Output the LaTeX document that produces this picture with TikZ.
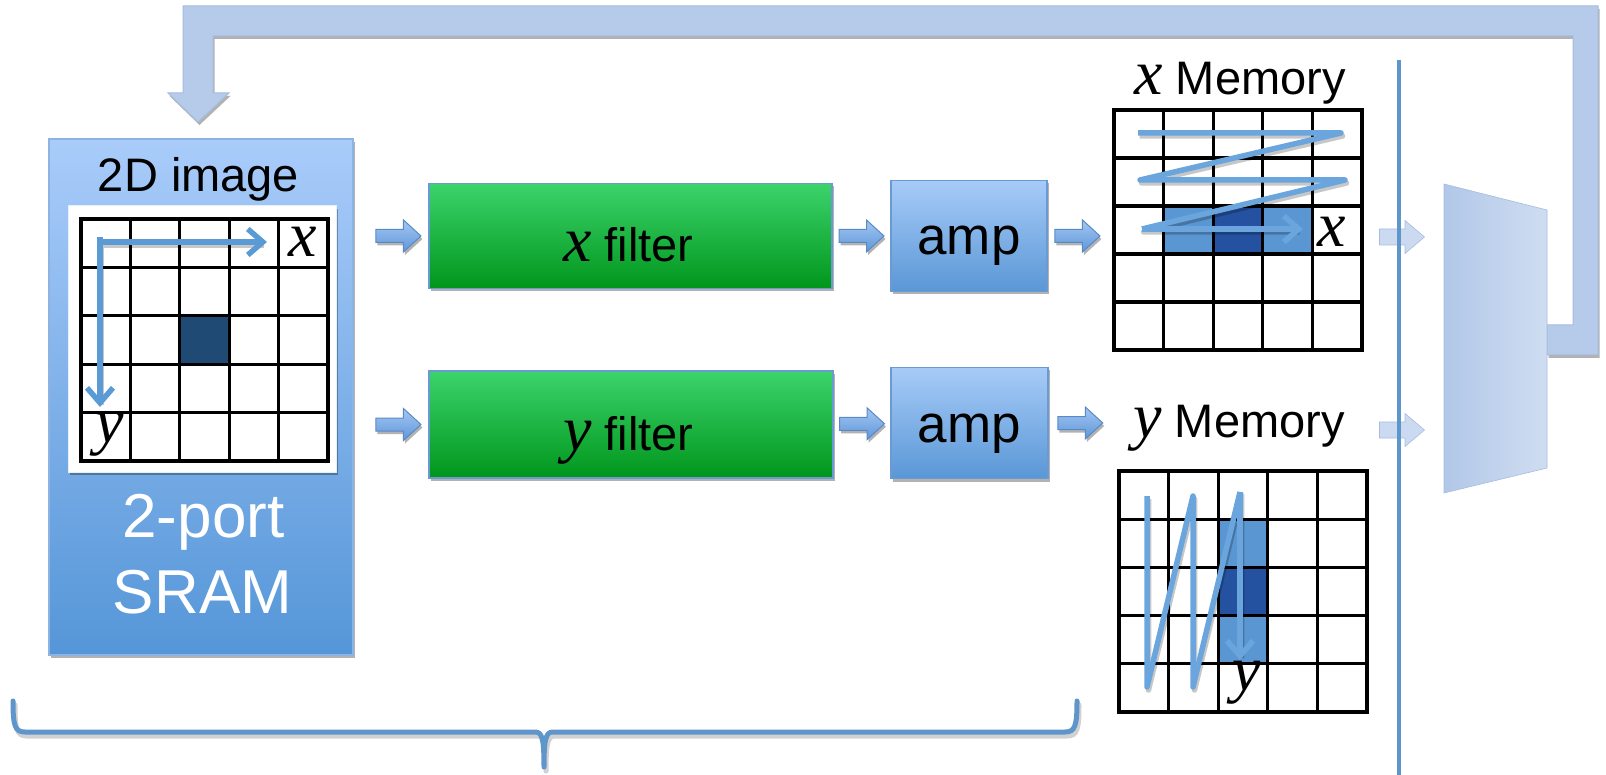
\documentclass[tikz,border=0pt]{standalone}
\usepackage{fontspec}
\setmainfont{Liberation Sans}
\newfontfamily\varfont{Liberation Serif}
\usetikzlibrary{calc,arrows.meta,shadows}

\definecolor{sramtop}{HTML}{A9CCFA}
\definecolor{srambot}{HTML}{5596D8}
\definecolor{sramedge}{HTML}{8DB3E2}
\definecolor{amptop}{HTML}{A7CBF8}
\definecolor{ampbot}{HTML}{5A97D6}
\definecolor{grtop}{HTML}{3CD36C}
\definecolor{grbot}{HTML}{00961C}
\definecolor{boxedge}{HTML}{6A9AD3}
\definecolor{arrtop}{HTML}{A4C6F2}
\definecolor{arrbot}{HTML}{5E97DA}
\definecolor{arredge}{HTML}{5A8AC6}
\definecolor{scan}{HTML}{5B9BD5}
\definecolor{memscan}{HTML}{6AA6DD}
\definecolor{darkcell}{HTML}{1F4A74}
\definecolor{memlight}{HTML}{5A97D2}
\definecolor{memdark}{HTML}{2452A0}
\definecolor{loopfill}{HTML}{B6CAEA}
\definecolor{loopedge}{HTML}{A6BCE0}
\definecolor{trapleft}{HTML}{B2C7E8}
\definecolor{trapright}{HTML}{CFDDF1}
\definecolor{ghost}{HTML}{C3D4EE}
\definecolor{rule}{HTML}{5E95CB}

\newcommand\ivar[1]{{\varfont\itshape\fontsize{64}{64}\selectfont #1}}

\tikzset{
  shade3d/.style={drop shadow={shadow xshift=1.5pt,shadow yshift=-3pt,opacity=0.3,fill=black}},
  bluebox/.style={draw=boxedge,line width=1.2pt,top color=amptop,bottom color=ampbot,
    shade3d,inner sep=0pt},
  greenbox/.style={draw=boxedge,line width=1.2pt,top color=grtop,bottom color=grbot,
    shade3d,inner sep=0pt},
  gridline/.style={line width=3.2pt,black,line cap=rect},
  scanline/.style={line width=5.5pt,scan,line join=round},
  memline/.style={scanline,memscan},
  scanshade/.style={line width=5.5pt,black,opacity=0.22,line join=round,shift={(1.5,3)}},
  scanarrow/.style={scanline,-{Straight Barb[length=15pt,width=26pt]}},
  memarrow/.style={scanarrow,memscan},
  labtext/.style={font=\fontsize{47}{50}\selectfont,anchor=base,inner sep=0pt},
  bigtext/.style={font=\fontsize{62}{64}\selectfont,anchor=base,inner sep=0pt,text=white},
  varlab/.style={anchor=base,inner sep=0pt},
  barrow/.pic={
    \path[draw=arredge,line width=1pt,top color=arrtop,bottom color=arrbot,shade3d]
      (-22.5,-6.5) -- (5,-6.5) -- (5,-16) -- (22.5,0) -- (5,16) -- (5,6.5)
      -- (-22.5,6.5) -- cycle;},
  garrow/.pic={
    \path[fill=ghost,fill opacity=0.85,draw=loopedge,line width=0.6pt]
      (-22.5,-8) -- (3,-8) -- (3,-16.5) -- (22.5,0) -- (3,16.5) -- (3,8)
      -- (-22.5,8) -- cycle;}
}

\begin{document}
\begin{tikzpicture}[x=1pt,y=-1pt]
\useasboundingbox (0,0) rectangle (1606,775);

% feedback path from the output stage back to the frame buffer
\path[draw=loopedge,line width=1pt,fill=loopfill,shade3d]
  (1547,325) -- (1573,325) -- (1573,36) -- (213,36) -- (213,93) -- (229,93)
  -- (198,122) -- (168,93) -- (183,93) -- (183,6) -- (1598,6) -- (1598,355)
  -- (1547,355) -- cycle;

% output stage
\path[left color=trapleft,right color=trapright,draw=loopedge,line width=0.6pt]
  (1444,184) coordinate (trapnw) -- (1547,210) -- (1547,468) -- (1444,493) coordinate (trapsw) -- cycle;

% 2-port SRAM with the stored image
\node[draw=sramedge,line width=1.2pt,top color=sramtop,bottom color=srambot,shade3d,
      minimum width=304pt,minimum height=516pt,inner sep=0pt] (sram) at (201,397) {};
\node[labtext] (imglbl) at (198.5,192) {2D image};
\node[bigtext] (portlbl) at (203.5,537) {2-port};
\node[bigtext] (sramlbl) at (202.5,613) {SRAM};
\node[fill=white,draw=white!85!scan,line width=1pt,shade3d,
      minimum width=268pt,minimum height=266pt,inner sep=0pt] (img) at (202,339) {};
\fill[darkcell] (179.8,315.8) rectangle (229.2,364.2);
\foreach \i in {0,...,5} {
  \draw[gridline] ({81+\i*49.4},219) -- ({81+\i*49.4},461);
  \draw[gridline] (81,{219+\i*48.4}) -- (328,{219+\i*48.4});
}
\draw[scanshade] (100,242) -- (262,242) (100,237) -- (100,402);
\draw[scanarrow] (100,242) -- (267,242);
\draw[scanarrow] (100,237) -- (100,407);
\node[varlab] (imgx) at (302.5,257) {\ivar{x}};
\node[varlab] (imgy) at (110,442) {\ivar{y}};

% filters and amplifiers
\node[greenbox,minimum width=403pt,minimum height=105pt] (xf) at (630.5,236) {};
\node[greenbox,minimum width=404pt,minimum height=107pt] (yf) at (631,424.5) {};
\node[labtext] at (628.5,262) {\ivar{x} filter};
\node[labtext] at (628.5,450) {\ivar{y} filter};
\node[bluebox,minimum width=156pt,minimum height=111pt] (ampx) at (969,236) {};
\node[bluebox,minimum width=157pt,minimum height=111pt] (ampy) at (969.5,423) {};
\node[labtext,font=\fontsize{53}{56}\selectfont] at (969,255) {amp};
\node[labtext,font=\fontsize{53}{56}\selectfont] at (969.5,442) {amp};

% x memory
\coordinate (xmem) at (1114,110);
\fill[memlight] (1163.6,206) rectangle (1312.4,254);
\fill[memdark] (1213.2,206) rectangle (1262.8,254);
\foreach \i in {0,...,5} {
  \draw[gridline] ({1114+\i*49.6},110) -- ({1114+\i*49.6},350);
  \draw[gridline] (1114,{110+\i*48}) -- (1362,{110+\i*48});
}
\draw[scanshade] (1138,133) -- (1341,133) -- (1140,180) -- (1345,180) -- (1142,229) -- (1298,229);
\draw[memline] (1138,133) -- (1341,133) -- (1140,180) -- (1345,180) -- (1142,229);
\draw[memarrow] (1142,229) -- (1303,229);
\node[varlab] (memx) at (1332,247) {\ivar{x}};
\node[labtext] (xmemlbl) at (1240,95) {\ivar{x} Memory};

% y memory
\coordinate (ymem) at (1119,471);
\fill[memlight] (1218.2,519.2) rectangle (1267.8,663.8);
\fill[memdark] (1218.2,567.4) rectangle (1267.8,615.6);
\foreach \i in {0,...,5} {
  \draw[gridline] ({1119+\i*49.6},471) -- ({1119+\i*49.6},712);
  \draw[gridline] (1119,{471+\i*48.2}) -- (1367,{471+\i*48.2});
}
\draw[scanshade] (1147,496) -- (1147,687) -- (1193,496) -- (1193,687) -- (1240,492) -- (1240,655);
\draw[memline] (1147,496) -- (1147,687) -- (1193,496) -- (1193,687) -- (1240,492);
\draw[memarrow] (1240,492) -- (1240,660);
\node[varlab] (memy) at (1247,690) {\ivar{y}};
\node[labtext] (ymemlbl) at (1239,437) {\ivar{y} Memory};

% block arrows along the data path
\path (sram.east|-xf.west) -- coordinate[pos=0.6] (a1) (xf.west);
\path (sram.east|-yf.west) -- coordinate[pos=0.6] (a2) (yf.west);
\path (xf.east) -- coordinate[pos=0.5] (a3) (ampx.west);
\path (yf.east) -- coordinate[pos=0.5] (a4) (ampy.west);
\path (ampx.east) -- coordinate[pos=0.45] (a5) (xmem|-ampx.east);
\path (ampy.east) -- coordinate[pos=0.45] (a6) (ymem|-ampy.east);
\foreach \c in {a1,a2,a3,a4,a5,a6} \pic at (\c) {barrow};

% inputs to the output stage
\pic at (1402,237) {garrow};
\pic at (1402,430) {garrow};

% divider
\draw[rule,line width=4pt] (1399,60) -- (1399,775);

% brace under the processing chain
\begin{scope}[line width=5pt,line cap=round]
\draw[black,opacity=0.18,shift={(2,4)}]
  (13,701) .. controls (13,726) and (15,732) .. (25,732) -- (535,732)
  .. controls (542,732) and (544,738) .. (544,767)
  (1077,701) .. controls (1077,726) and (1075,732) .. (1065,732) -- (553,732)
  .. controls (546,732) and (544,738) .. (544,767);
\draw[rule]
  (13,701) .. controls (13,726) and (15,732) .. (25,732) -- (535,732)
  .. controls (542,732) and (544,738) .. (544,767)
  (1077,701) .. controls (1077,726) and (1075,732) .. (1065,732) -- (553,732)
  .. controls (546,732) and (544,738) .. (544,767);
\end{scope}
\end{tikzpicture}
\end{document}
